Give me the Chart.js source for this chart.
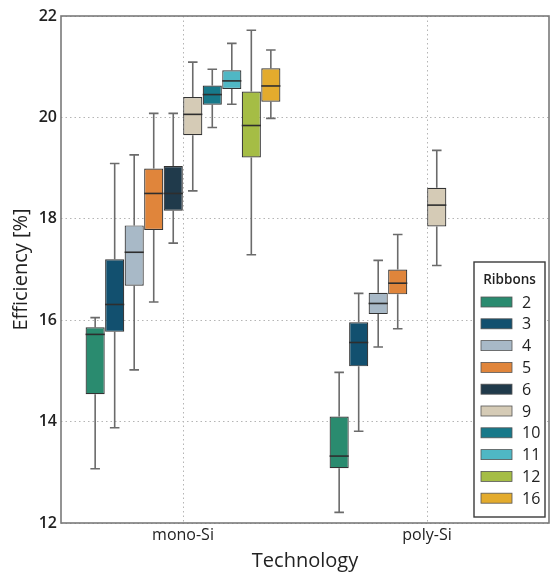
<!DOCTYPE html>
<html>
<head>
<meta charset="utf-8">
<script src="https://cdn.jsdelivr.net/npm/chart.js@4"></script>
<style>
  html, body { margin: 0; padding: 0; background: #fff; }
  #wrap { width: 550px; height: 573px; }
</style>
</head>
<body>
<div id="wrap"><canvas id="effChart" width="550" height="573"></canvas></div>
<script>
// Categories and hue levels
const categories = ['mono-Si', 'poly-Si'];
const ribbons = ['2', '3', '4', '5', '6', '9', '10', '11', '12', '16'];
const ribbonColors = ['#2a8b6f', '#12506f', '#a8b9c7', '#e0853b', '#203a4b',
                      '#d5cbb6', '#17798a', '#4fb7c4', '#a5bd45', '#e3ab2d'];
const yTicks = [12, 14, 16, 18, 20, 22];

// mono-Si box stats, one value per ribbon
const monoLow  = [13.07, 13.88, 15.02, 16.36, 17.52, 18.55, 19.80, 20.26, 17.29, 19.98];
const monoQ1   = [14.54, 15.77, 16.68, 17.78, 18.16, 19.65, 20.25, 20.56, 19.21, 20.31];
const monoMed  = [15.72, 16.31, 17.34, 18.50, 18.50, 20.06, 20.45, 20.72, 19.84, 20.62];
const monoQ3   = [15.86, 17.20, 17.87, 18.99, 19.04, 20.40, 20.63, 20.93, 20.51, 20.97];
const monoHigh = [16.05, 19.09, 19.26, 20.08, 20.08, 21.09, 20.95, 21.46, 21.72, 21.33];

// poly-Si box stats (null = no data for that ribbon)
const polyLow  = [12.21, 13.81, 15.47, 15.83, null, 17.08, null, null, null, null];
const polyQ1   = [13.08, 15.09, 16.12, 16.51, null, 17.85, null, null, null, null];
const polyMed  = [13.32, 15.56, 16.33, 16.73, null, 18.27, null, null, null, null];
const polyQ3   = [14.10, 15.96, 16.54, 17.00, null, 18.61, null, null, null, null];
const polyHigh = [14.97, 16.53, 17.18, 17.69, null, 19.35, null, null, null, null];

const FONT = "'Open Sans', 'Noto Sans', sans-serif";

const datasets = ribbons.map((r, i) => ({
    label: r,
    data: [
        [monoQ1[i], monoQ3[i]],
        polyQ1[i] == null ? null : [polyQ1[i], polyQ3[i]]
    ],
    low: [monoLow[i], polyLow[i]],
    med: [monoMed[i], polyMed[i]],
    high: [monoHigh[i], polyHigh[i]],
    backgroundColor: ribbonColors[i],
    borderColor: '#333333',
    borderWidth: 1.2,
    borderSkipped: false,
    categoryPercentage: 0.8,
    barPercentage: 0.98
}));

// Whiskers behind boxes, medians on top, frame and legend last
const boxPlugin = {
    id: 'boxPlugin',
    beforeDatasetsDraw(chart) {
        const ctx = chart.ctx;
        const yS = chart.scales.y;
        ctx.save();
        ctx.strokeStyle = '#6b6b6b';
        ctx.lineWidth = 1.6;
        chart.data.datasets.forEach((ds, di) => {
            const meta = chart.getDatasetMeta(di);
            meta.data.forEach((el, j) => {
                if (ds.data[j] == null) return;
                const { x, width } = el.getProps(['x', 'width'], true);
                const yLo = yS.getPixelForValue(ds.low[j]);
                const yHi = yS.getPixelForValue(ds.high[j]);
                const yQ1 = yS.getPixelForValue(ds.data[j][0]);
                const yQ3 = yS.getPixelForValue(ds.data[j][1]);
                const cap = width * 0.25;
                ctx.beginPath();
                ctx.moveTo(x, yQ1); ctx.lineTo(x, yLo);
                ctx.moveTo(x, yQ3); ctx.lineTo(x, yHi);
                ctx.moveTo(x - cap, yLo); ctx.lineTo(x + cap, yLo);
                ctx.moveTo(x - cap, yHi); ctx.lineTo(x + cap, yHi);
                ctx.stroke();
            });
        });
        ctx.restore();
    },
    afterDatasetsDraw(chart) {
        const ctx = chart.ctx;
        const yS = chart.scales.y;
        ctx.save();
        ctx.strokeStyle = '#2e2e2e';
        ctx.lineWidth = 1.6;
        chart.data.datasets.forEach((ds, di) => {
            const meta = chart.getDatasetMeta(di);
            meta.data.forEach((el, j) => {
                if (ds.data[j] == null) return;
                const { x, width } = el.getProps(['x', 'width'], true);
                const ym = yS.getPixelForValue(ds.med[j]);
                ctx.beginPath();
                ctx.moveTo(x - width / 2, ym);
                ctx.lineTo(x + width / 2, ym);
                ctx.stroke();
            });
        });
        ctx.restore();
    },
    afterDraw(chart) {
        const ctx = chart.ctx;
        const a = chart.chartArea;
        ctx.save();
        // plot frame
        ctx.strokeStyle = '#7a7a7a';
        ctx.lineWidth = 1.6;
        ctx.strokeRect(a.left, a.top, a.right - a.left, a.bottom - a.top);

        // legend box in lower right corner
        const lw = 71, lh = 255;
        const lx = a.right - 4 - lw, ly = a.bottom - 6 - lh;
        ctx.fillStyle = '#ffffff';
        ctx.fillRect(lx, ly, lw, lh);
        ctx.strokeStyle = '#3a3a3a';
        ctx.lineWidth = 1.4;
        ctx.strokeRect(lx, ly, lw, lh);

        ctx.fillStyle = '#222';
        ctx.font = '600 13.5px ' + FONT;
        ctx.textAlign = 'center';
        ctx.textBaseline = 'middle';
        ctx.fillText('Ribbons', lx + lw / 2, ly + 18);

        chart.data.datasets.forEach((ds, i) => {
            const cy = ly + 40 + i * 21.8;
            ctx.fillStyle = ds.backgroundColor;
            ctx.fillRect(lx + 7, cy - 5, 31, 10);
            ctx.strokeStyle = '#555';
            ctx.lineWidth = 0.8;
            ctx.strokeRect(lx + 7, cy - 5, 31, 10);
            ctx.fillStyle = '#222';
            ctx.font = '500 16px ' + FONT;
            ctx.textAlign = 'left';
            ctx.fillText(ds.label, lx + 48, cy + 1);
        });
        ctx.restore();
    }
};

new Chart(document.getElementById('effChart'), {
    type: 'bar',
    data: { labels: categories, datasets: datasets },
    options: {
        responsive: false,
        animation: false,
        devicePixelRatio: 1,
        layout: { padding: { left: 9, top: 16, right: 1, bottom: 0 } },
        plugins: {
            legend: { display: false },
            tooltip: { enabled: false }
        },
        scales: {
            x: {
                grid: {
                    offset: false,
                    color: '#b5b5b5',
                    lineWidth: 1,
                    drawTicks: false
                },
                border: { display: false, dash: [1.5, 3] },
                ticks: {
                    color: '#222',
                    padding: 3,
                    font: { family: FONT, size: 16 }
                },
                title: {
                    display: true,
                    text: 'Technology',
                    color: '#222',
                    padding: { top: 0, bottom: 0 },
                    font: { family: FONT, size: 20 }
                },
                afterFit(scale) { scale.height = 50; }
            },
            y: {
                min: 12,
                max: 22,
                afterBuildTicks(scale) {
                    scale.ticks = yTicks.map(v => ({ value: v }));
                },
                grid: {
                    color: '#b5b5b5',
                    lineWidth: 1,
                    drawTicks: false
                },
                border: { display: false, dash: [1.5, 3] },
                ticks: {
                    color: '#222',
                    padding: 4,
                    font: { family: FONT, size: 16, weight: '600' }
                },
                title: {
                    display: true,
                    text: 'Efficiency [%]',
                    color: '#222',
                    padding: { top: 0, bottom: 2 },
                    font: { family: FONT, size: 20 }
                },
                afterFit(scale) { scale.width = 52; }
            }
        }
    },
    plugins: [boxPlugin]
});
</script>
</body>
</html>
